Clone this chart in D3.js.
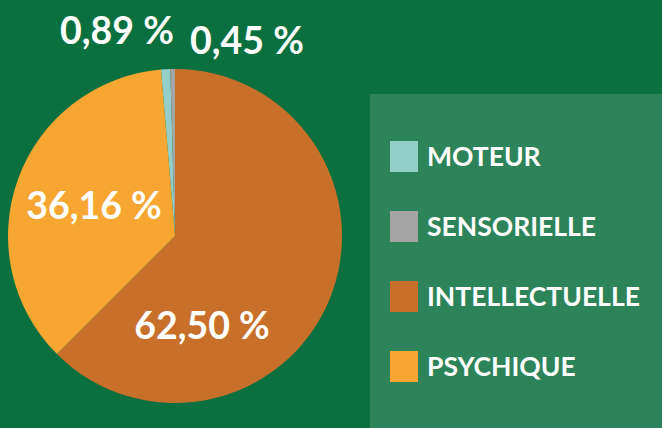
<!DOCTYPE html>
<html>
<head>
<meta charset="utf-8">
<script src="https://cdn.jsdelivr.net/npm/d3@7"></script>
<style>
  html, body { margin: 0; padding: 0; background: #0a703f; }
  svg { display: block; }
</style>
</head>
<body>
<svg width="662" height="428"></svg>
<script>
const categories = ["MOTEUR", "SENSORIELLE", "INTELLECTUELLE", "PSYCHIQUE"];
const values = [0.89, 0.45, 62.50, 36.16];
const colors = ["#93cfc8", "#a5a5a5", "#c8702a", "#f6a631"];

const svg = d3.select("svg");
const width = 662, height = 428;
const cx = 175, cy = 236, r = 167;
const font = "Lato, 'Open Sans', sans-serif";

svg.append("rect").attr("width", width).attr("height", height).attr("fill", "#0a703f");

// pie: small slices sit just left of 12 o'clock, intellectuelle starts at the top
const total = d3.sum(values);
const offset = -(values[0] + values[1]) / total * 2 * Math.PI;
const pie = d3.pie().sort(null).startAngle(offset).endAngle(offset + 2 * Math.PI);
const arcs = pie(values);
const arc = d3.arc().innerRadius(0).outerRadius(r);

const g = svg.append("g").attr("transform", "translate(" + cx + "," + cy + ")");
g.selectAll("path")
  .data(arcs)
  .enter().append("path")
  .attr("d", arc)
  .attr("fill", (d, i) => colors[i]);

const fmt = v => v.toFixed(2).replace(".", ",") + " %";

// label centres relative to the pie centre (moteur, sensorielle, intellectuelle, psychique)
const labelPos = [[-58, -206], [72, -196], [27, 89], [-81, -31]];
g.selectAll("text.lbl")
  .data(arcs)
  .enter().append("text")
  .attr("class", "lbl")
  .attr("x", (d, i) => labelPos[i][0])
  .attr("y", (d, i) => labelPos[i][1])
  .attr("text-anchor", "middle")
  .attr("dy", "0.36em")
  .attr("fill", "#fff")
  .attr("font-family", font)
  .attr("font-weight", "bold")
  .attr("font-size", 37.5)
  .text(d => fmt(d.data));

// legend
const lg = svg.append("g");
lg.append("rect")
  .attr("x", 370).attr("y", 94)
  .attr("width", width - 370).attr("height", height - 94)
  .attr("fill", "#2d835a");

const y = d3.scalePoint().domain(categories).range([156.5, 366.5]);
const items = lg.selectAll("g.item")
  .data(categories)
  .enter().append("g")
  .attr("class", "item")
  .attr("transform", d => "translate(390," + y(d) + ")");

items.append("rect")
  .attr("x", 0).attr("y", -15.5)
  .attr("width", 28).attr("height", 31)
  .attr("fill", (d, i) => colors[i]);

items.append("text")
  .attr("x", 37)
  .attr("dy", "0.36em")
  .attr("fill", "#fff")
  .attr("font-family", font)
  .attr("font-weight", "bold")
  .attr("font-size", 26.5)
  .text(d => d);
</script>
</body>
</html>
